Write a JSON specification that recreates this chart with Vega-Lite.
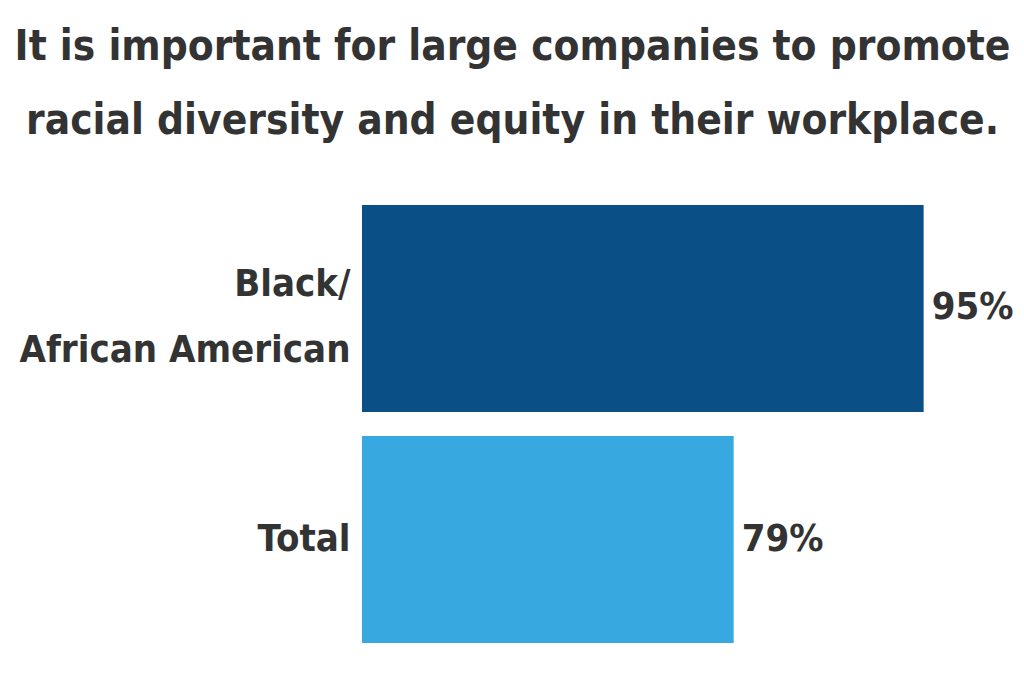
{
  "$schema": "https://vega.github.io/schema/vega-lite/v6.json",
  "autosize": "none",
  "width": 621,
  "height": 438,
  "padding": {"left": 362, "top": 205, "right": 41, "bottom": 42},
  "background": "white",
  "title": {
    "text": ["It is important for large companies to promote", "racial diversity and equity in their workplace."],
    "font": "DejaVu Sans Condensed",
    "fontWeight": "bold",
    "fontSize": 42,
    "lineHeight": 74,
    "color": "#333333",
    "anchor": "middle",
    "dx": -160,
    "offset": 62
  },
  "data": {
    "values": [
      {"group": "Black/African American", "value": 95, "label": "95%"},
      {"group": "Total", "value": 79, "label": "79%"}
    ]
  },
  "encoding": {
    "y": {
      "field": "group",
      "type": "nominal",
      "sort": null,
      "scale": {"paddingInner": 0.104, "paddingOuter": 0},
      "axis": {
        "title": null,
        "domain": false,
        "ticks": false,
        "labelPadding": 12,
        "labelFont": "DejaVu Sans Condensed",
        "labelFontWeight": "bold",
        "labelFontSize": 38,
        "labelColor": "#333333",
        "labelLineHeight": 66,
        "labelLimit": 400,
        "labelOffset": {"expr": "datum.value == 'Total' ? 0 : -23"},
        "labelExpr": "datum.label == 'Black/African American' ? ['Black/', 'African American'] : datum.label"
      }
    },
    "x": {
      "field": "value",
      "type": "quantitative",
      "scale": {"domain": [47.7, 100], "zero": false, "nice": false},
      "axis": null
    }
  },
  "layer": [
    {
      "mark": {"type": "bar", "clip": true},
      "encoding": {
        "color": {
          "field": "group",
          "type": "nominal",
          "scale": {"domain": ["Black/African American", "Total"], "range": ["#0b4f87", "#37a8e0"]},
          "legend": null
        }
      }
    },
    {
      "mark": {
        "type": "text",
        "align": "left",
        "baseline": "middle",
        "dx": 8,
        "font": "DejaVu Sans Condensed",
        "fontWeight": "bold",
        "fontSize": 38,
        "color": "#333333"
      },
      "encoding": {"text": {"field": "label"}}
    }
  ],
  "config": {"view": {"stroke": null}}
}
